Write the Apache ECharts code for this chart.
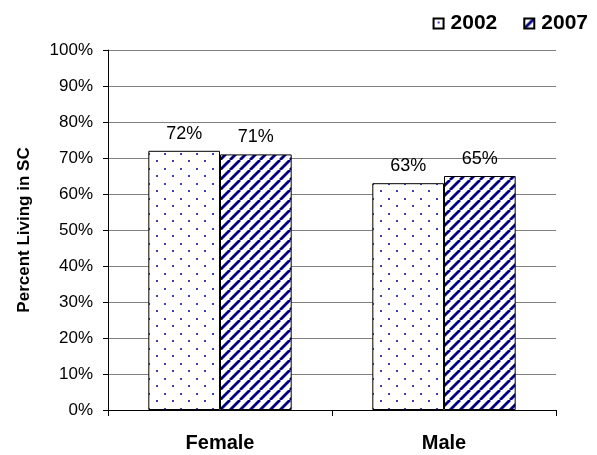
<!DOCTYPE html>
<html>
<head>
<meta charset="utf-8">
<script src="https://cdn.jsdelivr.net/npm/echarts@6/dist/echarts.min.js"></script>
<style>
  html, body { margin: 0; padding: 0; background: #fff; }
  #chart { width: 597px; height: 455px; }
</style>
</head>
<body>
<div id="chart"></div>
<script>
// data
const categories = ['Female', 'Male']
const values2002 = [72, 63]
const values2007 = [71, 65]
const yTicks = [0, 10, 20, 30, 40, 50, 60, 70, 80, 90, 100]

const FONT = '"Liberation Sans", Arial, sans-serif'

// dotted fill for 2002
const makeDots = () => {
  const c = document.createElement('canvas')
  c.width = 16
  c.height = 15
  const ctx = c.getContext('2d')
  ctx.fillStyle = '#fff'
  ctx.fillRect(0, 0, 16, 15)
  ctx.fillStyle = '#4040b0'
  ctx.fillRect(4, 3, 2, 2)
  ctx.fillRect(12, 10, 2, 2)
  return c
}

// diagonal stripes for 2007
const makeStripes = () => {
  const s = 10
  const c = document.createElement('canvas')
  c.width = s
  c.height = s
  const ctx = c.getContext('2d')
  ctx.fillStyle = '#fff'
  ctx.fillRect(0, 0, s, s)
  ctx.strokeStyle = '#000080'
  ctx.lineWidth = 2.8
  for (let k = -1; k <= 1; k++) {
    ctx.beginPath()
    ctx.moveTo(k * s, s)
    ctx.lineTo(k * s + s, 0)
    ctx.stroke()
  }
  return c
}

const chart = echarts.init(document.getElementById('chart'))

const labelStyle = {
  show: true,
  position: 'top',
  distance: 8,
  formatter: p => p.value + '%',
  fontFamily: FONT,
  fontSize: 18,
  color: '#000'
}

chart.setOption({
  animation: false,
  textStyle: { fontFamily: FONT },
  legend: {
    data: ['2002', '2007'],
    right: 4,
    top: 8,
    itemWidth: 10,
    itemHeight: 10,
    itemGap: 26,
    icon: 'rect',
    textStyle: { fontFamily: FONT, fontSize: 21, fontWeight: 'bold', color: '#000', padding: [0, 0, 0, 2] }
  },
  grid: { left: 108, right: 41, top: 50, bottom: 45 },
  xAxis: {
    type: 'category',
    data: categories,
    axisLine: { lineStyle: { color: '#000', width: 1 } },
    axisTick: { show: true, length: 6, lineStyle: { color: '#000' } },
    axisLabel: { fontFamily: FONT, fontSize: 20, fontWeight: 'bold', color: '#000', margin: 23 }
  },
  yAxis: {
    type: 'value',
    min: 0,
    max: 100,
    interval: 10,
    name: 'Percent Living in SC',
    nameLocation: 'middle',
    nameGap: 75,
    nameTextStyle: { fontFamily: FONT, fontSize: 17, fontWeight: 'bold', color: '#000' },
    axisLine: { show: true, lineStyle: { color: '#000', width: 1 } },
    axisTick: { show: true, length: 5, lineStyle: { color: '#000' } },
    axisLabel: {
      fontFamily: FONT,
      fontSize: 17,
      color: '#000',
      margin: 15,
      formatter: v => (yTicks.includes(v) ? v + '%' : '')
    },
    splitLine: { lineStyle: { color: '#808080', width: 1 } }
  },
  series: [
    {
      name: '2002',
      type: 'bar',
      data: values2002,
      barGap: '0%',
      barCategoryGap: '36%',
      itemStyle: {
        color: { image: makeDots(), repeat: 'repeat' },
        borderColor: '#000',
        borderWidth: 1
      },
      label: labelStyle
    },
    {
      name: '2007',
      type: 'bar',
      data: values2007,
      itemStyle: {
        color: { image: makeStripes(), repeat: 'repeat' },
        borderColor: '#000',
        borderWidth: 1
      },
      label: labelStyle
    }
  ]
})
</script>
</body>
</html>
